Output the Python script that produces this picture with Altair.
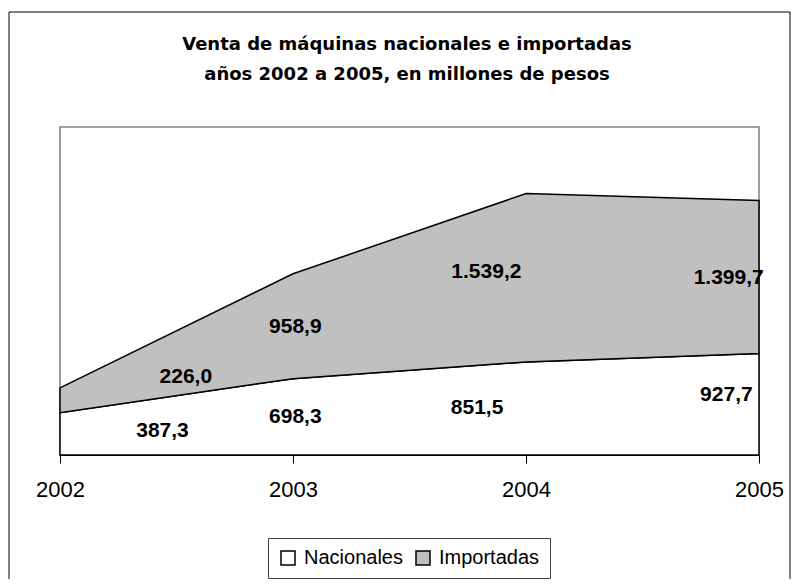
import altair as alt
import pandas as pd

years = [2002, 2003, 2004, 2005]
nacionales = [387.3, 698.3, 851.5, 927.7]
importadas = [226.0, 958.9, 1539.2, 1399.7]
series = ["Nacionales", "Importadas"]
colors = ["#ffffff", "#c0c0c0"]
title_lines = ["Venta de máquinas nacionales e importadas", "años 2002 a 2005, en millones de pesos"]

# label anchor positions (data units) for each value label
lab_x_nac = [2002.44, 2003.01, 2003.79, 2004.86]
lab_y_nac = [220, 348, 430, 549]
lab_x_imp = [2002.54, 2003.01, 2003.83, 2004.87]
lab_y_imp = [713, 1171, 1674, 1619]


def fmt(v):
    s = f"{v:,.1f}"
    return s.replace(",", "X").replace(".", ",").replace("X", ".")


rows = []
for i, y in enumerate(years):
    rows.append({"year": y, "serie": "Nacionales", "ord": 0, "value": nacionales[i]})
    rows.append({"year": y, "serie": "Importadas", "ord": 1, "value": importadas[i]})
df = pd.DataFrame(rows)

labels = pd.DataFrame(
    {
        "lx": lab_x_nac + lab_x_imp,
        "ly": lab_y_nac + lab_y_imp,
        "txt": [fmt(v) for v in nacionales] + [fmt(v) for v in importadas],
    }
)

xscale = alt.Scale(domain=[2002, 2005], nice=False, zero=False)
yscale = alt.Scale(domain=[0, 3000], nice=False)

frame = alt.Chart(alt.Data(values=[{"a": 1}])).mark_rect(
    fillOpacity=0, stroke="black", strokeWidth=1
).encode(
    x=alt.value(-51), x2=alt.value(730), y=alt.value(-115), y2=alt.value(520)
)

title = alt.Chart(alt.Data(values=[{"t": title_lines}])).mark_text(
    font="DejaVu Sans", fontSize=18, fontWeight="bold", color="#000000",
    align="center", baseline="middle", lineHeight=30,
).encode(
    x=alt.value(347), y=alt.value(-82), text="t:N"
)

area = alt.Chart(df).mark_area(stroke="black", strokeWidth=1.5, strokeJoin="miter").encode(
    x=alt.X(
        "year:Q",
        scale=xscale,
        axis=alt.Axis(
            values=years,
            format="d",
            title=None,
            grid=False,
            tickSize=8,
            tickColor="#000000",
            domainColor="#000000",
            labelFont="Liberation Sans",
            labelFontSize=22,
            labelColor="#000000",
            labelPadding=16,
            labelFlush=False,
        ),
    ),
    y=alt.Y("value:Q", stack="zero", scale=yscale, axis=None),
    fill=alt.Fill(
        "serie:N",
        scale=alt.Scale(domain=series, range=colors),
        legend=alt.Legend(
            title=None,
            orient="none",
            legendX=208,
            legendY=411,
            direction="horizontal",
            symbolType="square",
            symbolSize=196,
            symbolStrokeColor="#000000",
            symbolStrokeWidth=1.5,
            labelFont="Liberation Sans",
            labelFontSize=20,
            labelColor="#000000",
            labelOffset=6,
            columnPadding=10,
            padding=10,
            strokeColor="#404040",
            fillColor="#ffffff",
        ),
    ),
    order=alt.Order("ord:Q"),
)

text = alt.Chart(labels).mark_text(
    font="Liberation Sans", fontSize=21, fontWeight="bold", color="#000000", baseline="middle", align="center"
).encode(
    x=alt.X("lx:Q", scale=xscale),
    y=alt.Y("ly:Q", scale=yscale),
    text="txt:N",
)

chart = alt.layer(frame, title, area, text).properties(
    width=699,
    height=328,
    autosize=alt.AutoSizeParams(type="none"),
    padding={"left": 52, "top": 119, "right": 32, "bottom": 124},
    background="#ffffff",
).configure_view(stroke="#808080", strokeWidth=1.5)

chart.save("out.html", embed_options={"renderer": "svg", "actions": False})
